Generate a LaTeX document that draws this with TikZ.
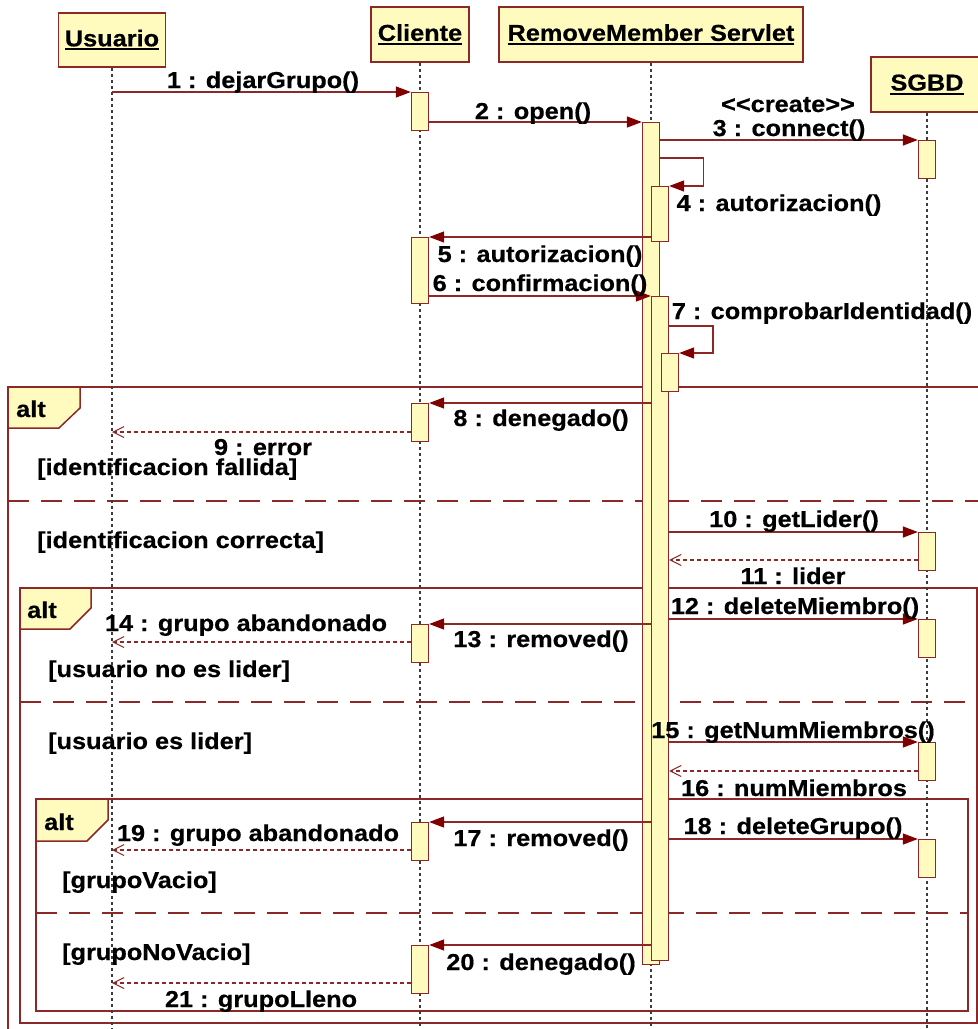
\documentclass[tikz,border=0pt]{standalone}
\usepackage{fontspec}
\setmainfont{Liberation Sans}[FakeStretch=1.1, BoldFeatures={FakeBold=0.5}]
\usetikzlibrary{arrows.meta}
\definecolor{actfill}{RGB}{255,250,190}
\definecolor{edge}{RGB}{140,40,40}
\definecolor{tipred}{RGB}{128,0,0}
\definecolor{lifegray}{RGB}{60,60,60}
% bold underline for object names
\newcommand{\headul}[1]{\setbox0\hbox{#1}\rlap{\raisebox{-4pt}{\rule{\wd0}{2pt}}}\box0}
% activation bar: name, x centre, top, bottom
\newcommand{\activation}[4]{\node[actbar, anchor=north, minimum height={(#4-#3)*1pt}] (#1) at (#2,#3) {};}
\tikzset{
  head/.style={draw=edge, line width=1.6pt, fill=actfill, inner sep=0pt,
    font=\bfseries\fontsize{23}{27}\selectfont},
  actbar/.style={draw=edge, line width=1.3pt, fill=actfill, minimum width=17pt, inner sep=0pt},
  lifeline/.style={draw=lifegray, line width=1.1pt, dash pattern=on 3pt off 3pt},
  frame/.style={draw=edge, line width=1.5pt},
  altsep/.style={frame, dash pattern=on 21pt off 12pt},
  tab/.style={frame, fill=actfill},
  call/.style={draw=edge, line width=1.4pt,
    -{Triangle[length=15pt,width=11pt,fill=tipred,color=tipred]}},
  ret/.style={draw=edge, line width=1.1pt, dash pattern=on 4pt off 3pt,
    -{Straight Barb[length=11pt,width=11pt,line width=1pt]}},
  lbl/.style={anchor=base, inner sep=0pt, font=\bfseries\fontsize{23}{27}\selectfont},
  guard/.style={lbl, anchor=base west},
}
\begin{document}
\begin{tikzpicture}[x=1pt,y=-1pt]
\useasboundingbox (0,0) rectangle (978,1029);
\fill[white] (0,0) rectangle (978,1029);
\clip (0,0) rectangle (978,1029);

% combined fragments
\draw[frame] (8,1040) -- (8,387) -- (990,387);
\draw[altsep] (8,501) -- (990,501);
\draw[frame] (20,588) rectangle (977,1023);
\draw[altsep] (20,702) -- (977,702);
\draw[frame] (36,799) rectangle (968,1011);
\draw[altsep] (36,913) -- (968,913);
\draw[tab] (8,387) -- (80,387) -- (80,408) -- (59,428) -- (8,428) -- cycle;
\draw[tab] (20,588) -- (91,588) -- (91,608) -- (70,629) -- (20,629) -- cycle;
\draw[tab] (36,799) -- (108,799) -- (108,820) -- (87,841) -- (36,841) -- cycle;

% objects
\node[head, minimum width=107pt, minimum height=54pt] (U) at (112,40) {\headul{Usuario}};
\node[head, minimum width=98pt, minimum height=55pt] (C) at (420,34.5) {\headul{Cliente}};
\node[head, minimum width=304pt, minimum height=55pt] (S) at (651,34.5) {\headul{RemoveMember Servlet}};
\node[head, minimum width=112pt, minimum height=55pt] (D) at (927,84.5) {\headul{SGBD}};

% lifelines
\draw[lifeline] (U.south) -- ++(0,980);
\draw[lifeline] (C.south) -- ++(0,980);
\draw[lifeline] (S.south) -- ++(0,980);
\draw[lifeline] (D.south) -- ++(0,980);

% activations
\activation{C1}{420}{92}{130}
\activation{C2}{420}{237}{303}
\activation{C3}{420}{403}{441}
\activation{C4}{420}{624}{662}
\activation{C5}{420}{822}{860}
\activation{C6}{420}{945}{993}
\activation{S1}{651}{122}{964}
\activation{S4}{660}{186}{241}
\activation{S2}{660}{296}{960}
\activation{S7}{670}{353}{391}
\activation{D1}{927}{140}{178}
\activation{D2}{927}{532}{570}
\activation{D3}{927}{619}{657}
\activation{D4}{927}{742}{780}
\activation{D5}{927}{839}{877}

% messages
\draw[call] (U |- C1.north) -- (C1.north west);
\draw[call] (C1.east |- S1.north) -- (S1.north west);
\draw[call] (S1.east |- D1.north) -- (D1.north west);
\draw[call] (S1.east |- 0,158) -- ++(43.5,0) |- (S4.north east);
\draw[call] (S4.west |- C2.north) -- (C2.north east);
\draw[call] (C2.east |- S2.north) -- (S2.north west);
\draw[call] (S2.east |- 0,326) -- ++(44,0) |- (S7.north east);
\draw[call] (S2.west |- C3.north) -- (C3.north east);
\draw[ret]  (C3.west |- 0,432) -- (U |- 0,432);
\draw[call] (S2.east |- D2.north) -- (D2.north west);
\draw[ret]  (D2.west |- 0,560) -- (S2.east |- 0,560);
\draw[call] (S2.east |- D3.north) -- (D3.north west);
\draw[call] (S2.west |- C4.north) -- (C4.north east);
\draw[ret]  (C4.west |- 0,642) -- (U |- 0,642);
\draw[call] (S2.east |- D4.north) -- (D4.north west);
\draw[ret]  (D4.west |- 0,771) -- (S2.east |- 0,771);
\draw[call] (S2.west |- C5.north) -- (C5.north east);
\draw[call] (S2.east |- D5.north) -- (D5.north west);
\draw[ret]  (C5.west |- 0,850) -- (U |- 0,850);
\draw[call] (S2.west |- C6.north) -- (C6.north east);
\draw[ret]  (C6.west |- 0,983) -- (U |- 0,983);

% message labels
\node[lbl] (l1) at (263,88) {1 : dejarGrupo()};
\node[lbl] (l2) at (533,119) {2 : open()};
\node[lbl] (lc) at (788,112) {\hbox{<}\hbox{<}create\hbox{>}\hbox{>}};
\node[lbl] (l3) at (789,136) {3 : connect()};
\node[lbl] (l4) at (779,211) {4 : autorizacion()};
\node[lbl] (l5) at (540,262) {5 : autorizacion()};
\node[lbl] (l6) at (540,291) {6 : confirmacion()};
\node[lbl] (l7) at (822,319) {7 : comprobarIdentidad()};
\node[lbl] (l8) at (541,426) {8 : denegado()};
\node[lbl] (l9) at (263,455) {9 : error};
\node[lbl] (l10) at (794,527) {10 : getLider()};
\node[lbl] (l11) at (793,584) {11 : lider};
\node[lbl] (l12) at (795,614) {12 : deleteMiembro()};
\node[lbl] (l13) at (541,647) {13 : removed()};
\node[lbl] (l14) at (246,631) {14 : grupo abandonado};
\node[lbl] (l15) at (793,738) {15 : getNumMiembros()};
\node[lbl] (l16) at (794,796) {16 : numMiembros};
\node[lbl] (l17) at (541,846) {17 : removed()};
\node[lbl] (l18) at (793,834) {18 : deleteGrupo()};
\node[lbl] (l19) at (258,841) {19 : grupo abandonado};
\node[lbl] (l20) at (541,970) {20 : denegado()};
\node[lbl] (l21) at (261,1007) {21 : grupoLleno};

% fragment operators and guards
\node[guard] (a1) at (16,417) {alt};
\node[guard] (a2) at (27,618) {alt};
\node[guard] (a3) at (44,830) {alt};
\node[guard] (g1) at (37,475) {[identificacion fallida]};
\node[guard] (g2) at (37,548) {[identificacion correcta]};
\node[guard] (g3) at (48,677) {[usuario no es lider]};
\node[guard] (g4) at (48,749) {[usuario es lider]};
\node[guard] (g5) at (62,888) {[grupoVacio]};
\node[guard] (g6) at (62,960) {[grupoNoVacio]};
\end{tikzpicture}
\end{document}
